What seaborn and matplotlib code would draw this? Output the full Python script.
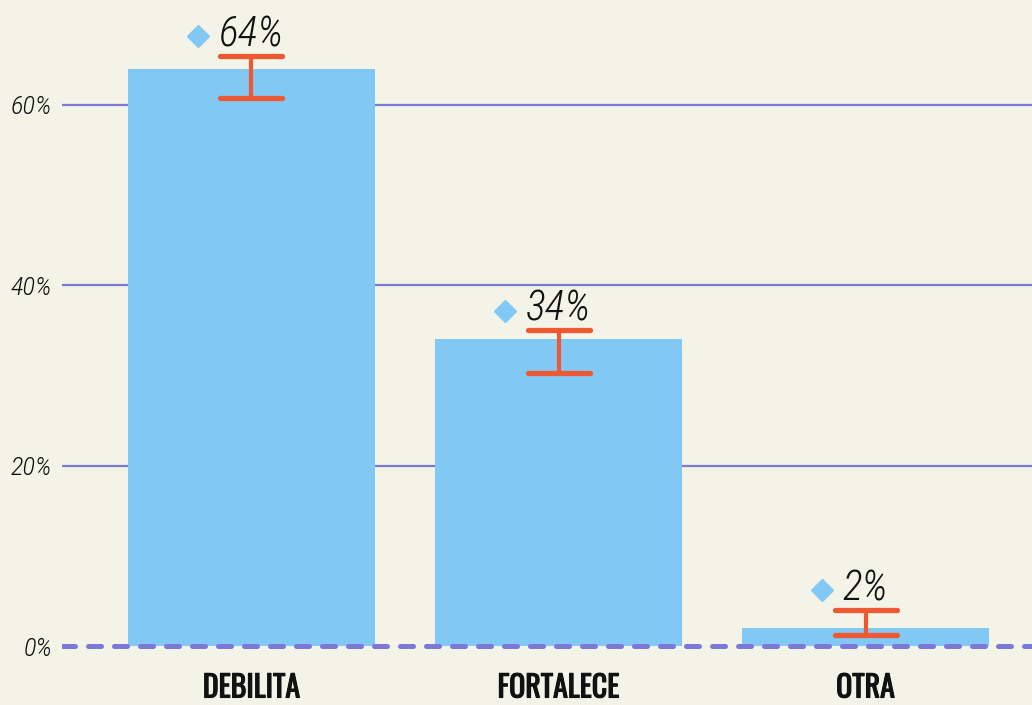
import numpy as np
import pandas as pd
import seaborn as sns
import matplotlib.pyplot as plt
import matplotlib.patheffects as pe
from matplotlib.markers import MarkerStyle
from matplotlib.transforms import IdentityTransform

categories = ["DEBILITA", "FORTALECE", "OTRA"]
values = [64, 34, 2]
err_low = [60.8, 30.3, 1.2]
err_high = [65.4, 35.0, 4.0]
value_labels = ["64%", "34%", "2%"]
yticks = [0, 20, 40, 60]
ytick_labels = ["0%", "20%", "40%", "60%"]

BG = "#f4f3e8"
BAR = "#82c8f4"
ERR = "#ee5832"
GRID = "#7b78d8"
TXT = "#111111"

sns.set_theme(style="white")
plt.rcParams["font.family"] = ["Roboto Condensed", "DejaVu Sans"]

df = pd.DataFrame({"cat": categories, "val": values})

fig = plt.figure(figsize=(10.32, 7.05), dpi=100, facecolor=BG)
ax = fig.add_axes([62 / 1032, 45 / 705, 970 / 1032, 660 / 705])
ax.set_facecolor(BG)

sns.barplot(data=df, x="cat", y="val", color=BAR, saturation=1, width=0.805,
            linewidth=0, edgecolor="none", ax=ax, zorder=2)

for t in yticks:
    if t > 0:
        ax.axhline(t, color=GRID, lw=1.6, zorder=1)
ax.axhline(0, color=GRID, lw=3.6, ls=(0, (2.6, 2.6)), dash_capstyle="round", zorder=3)

x = np.arange(len(values))
v = np.array(values)
lo = v - np.array(err_low)
hi = np.array(err_high) - v
_, caps, bars = ax.errorbar(x, v, yerr=[lo, hi], fmt="none", ecolor=ERR,
                            elinewidth=3, capsize=23, capthick=3.8, zorder=4)
for c in caps:
    c.set_marker(MarkerStyle("_", capstyle="round"))
    c.set_markersize(44)

ax.set_xlim(-0.617, 2.542)
ax.set_ylim(-1.55, 71.62)
ax.set_yticks(yticks)
ax.set_yticklabels(ytick_labels, fontsize=19, style="italic", fontweight=300,
                   color=TXT, family=["Roboto Condensed", "DejaVu Sans"])
ax.tick_params(axis="y", length=0, pad=7)
ax.tick_params(axis="x", length=0, pad=9)
for lab in ax.get_xticklabels():
    lab.set_family(["Oswald", "DejaVu Sans"])
    lab.set_fontsize(21.5)
    lab.set_fontweight("bold")
    lab.set_color(TXT)
    lab.set_path_effects([pe.withStroke(linewidth=0.8, foreground=TXT)])
ax.set_xlabel("")
ax.set_ylabel("")
for s in ax.spines.values():
    s.set_visible(False)

texts = []
for i, lab in enumerate(value_labels):
    t = ax.annotate(lab, (i, err_high[i]), xytext=(0, 7), textcoords="offset points",
                    ha="center", va="baseline", fontsize=30, style="italic",
                    fontweight=300, family=["Roboto Condensed", "DejaVu Sans"],
                    color=TXT, zorder=5)
    texts.append(t)

fig.canvas.draw()
r = fig.canvas.get_renderer()
for i, t in enumerate(texts):
    bb = t.get_window_extent(r)
    base_y = ax.transData.transform((i, err_high[i]))[1] + 7 * 100 / 72
    ax.plot([bb.x0 - 21], [base_y + 10], marker="D", markersize=11.5, color=BAR,
            transform=IdentityTransform(), zorder=5, clip_on=False)

fig.savefig("out.png", dpi=100, facecolor=BG)
